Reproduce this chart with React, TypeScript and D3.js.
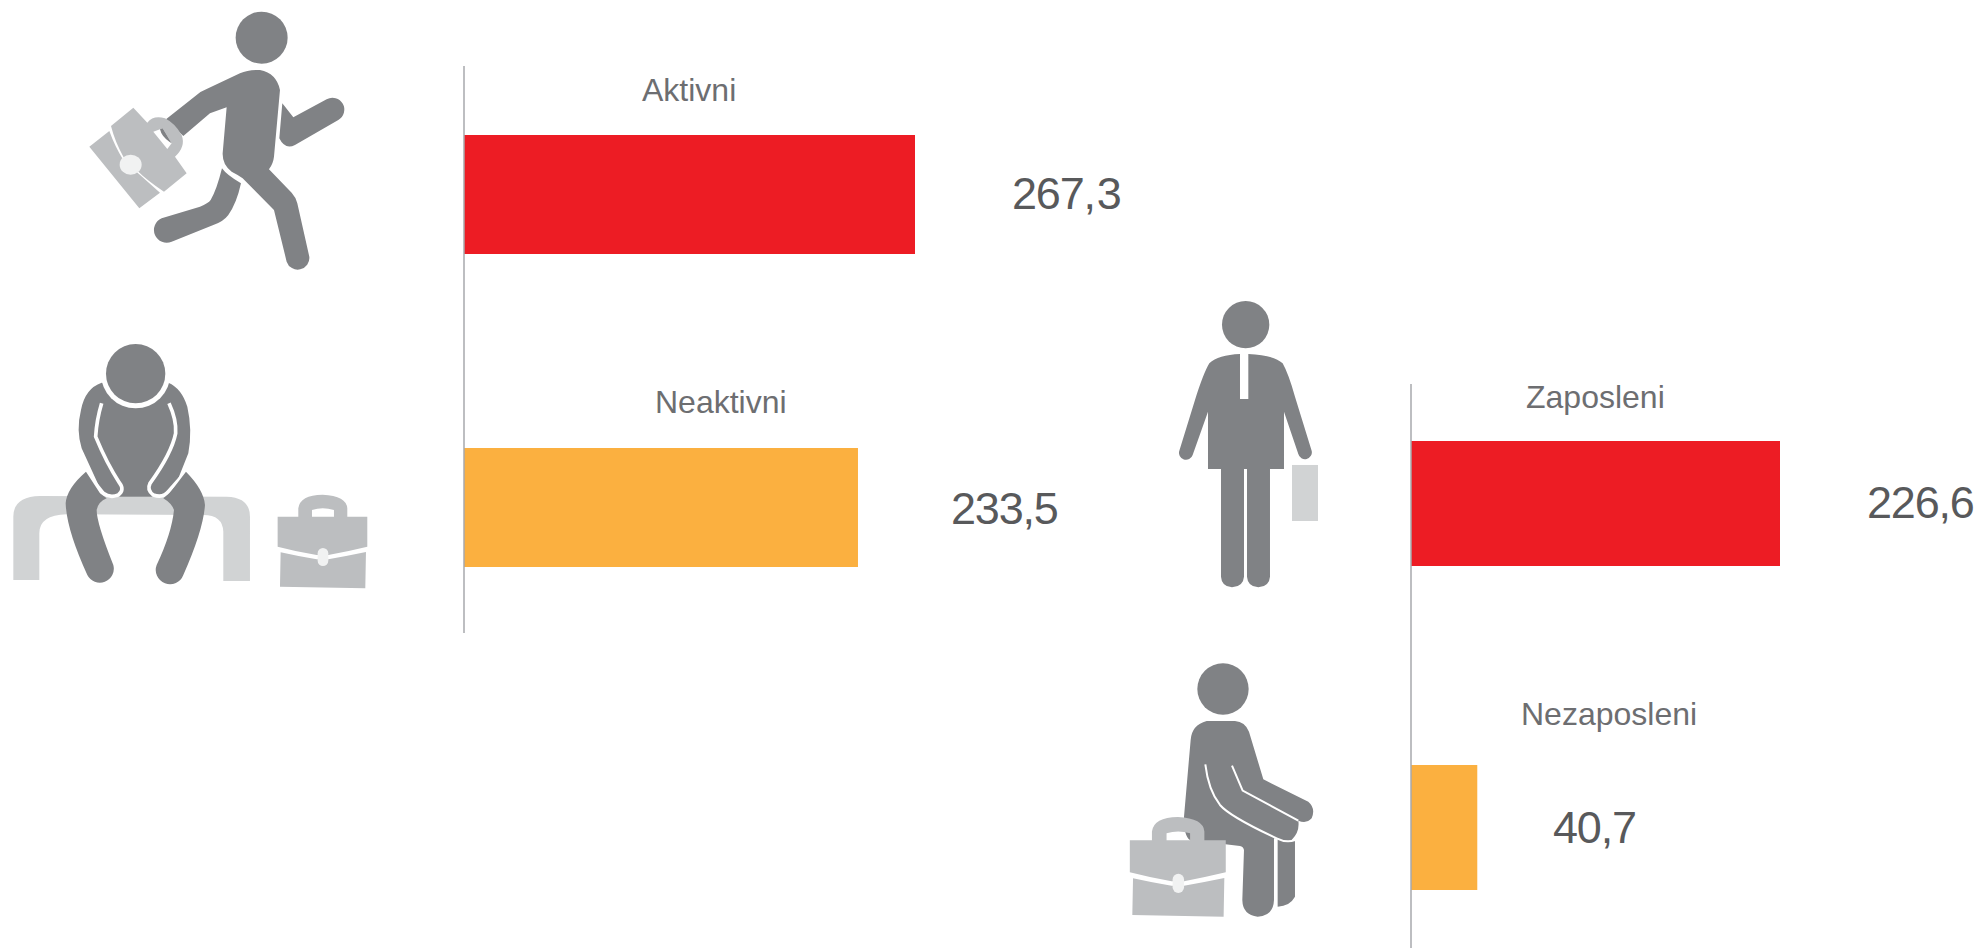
import React from "react";
import * as d3 from "d3";

const W = 1982;
const H = 948;

// Data
const leftCategories = ["Aktivni", "Neaktivni"];
const leftValues = [267.3, 233.5];
const rightCategories = ["Zaposleni", "Nezaposleni"];
const rightValues = [226.6, 40.7];
const barColors = ["#ed1c24", "#fbb040"];

const DARK = "#808285";
const CASE = "#bcbec0";
const LIGHT = "#d1d3d4";
const CLASP = "#f1f2f2";
const LABEL = "#6d6e71";
const VALUE = "#58595b";
const AXIS = "#a7a9ac";
const FONT = "'Liberation Sans', Arial, Helvetica, sans-serif";

const fmt = (v: number) => d3.format(".1f")(v).replace(".", ",");

const panels = [
  {
    categories: leftCategories,
    values: leftValues,
    x0: 464,
    x1: 915,
    yRange: [135, 567],
    axis: [66, 633],
    labelX: [642, 655],
    labelY: [101, 413],
    valueX: [1012, 951],
    valueY: [209, 524],
    lastDigitGap: [2, 0],
  },
  {
    categories: rightCategories,
    values: rightValues,
    x0: 1411,
    x1: 1780,
    yRange: [441, 890],
    axis: [384, 948],
    labelX: [1526, 1521],
    labelY: [408, 725],
    valueX: [1867, 1553],
    valueY: [518, 843],
    lastDigitGap: [0, 0],
  },
];

function Panel({ p }: { p: (typeof panels)[number] }) {
  const x = d3.scaleLinear().domain([0, d3.max(p.values) as number]).range([p.x0, p.x1]);
  const inner = p.categories[0] === "Aktivni" ? 1 - 119 / 313 : 1 - 125 / 324;
  const y = d3.scaleBand<string>().domain(p.categories).range(p.yRange as [number, number]).paddingInner(inner).paddingOuter(0);
  return (
    <g>
      {p.categories.map((c, i) => {
        const s = fmt(p.values[i]);
        return (
          <g key={c}>
            <rect x={x(0)} y={y(c)} width={x(p.values[i]) - x(0)} height={y.bandwidth()} fill={barColors[i]} />
            <text x={p.labelX[i]} y={p.labelY[i]} fontSize={32} fill={LABEL} fontFamily={FONT}>{c}</text>
            <text x={p.valueX[i]} y={p.valueY[i]} fontSize={45} letterSpacing={-1.2} fill={VALUE} fontFamily={FONT}>
              {s.slice(0, -1)}
              <tspan dx={p.lastDigitGap[i]}>{s.slice(-1)}</tspan>
            </text>
          </g>
        );
      })}
      <line x1={x(0)} x2={x(0)} y1={p.axis[0]} y2={p.axis[1]} stroke={AXIS} strokeWidth={1.5} />
    </g>
  );
}

function Briefcase({ transform }: { transform: string }) {
  return (
    <g transform={transform}>
      <path
        fillRule="evenodd"
        fill={CASE}
        d="M833,590 L895,590 L895,565 Q900,525 968,524 Q1040,528 1042,565 L1042,590 L1102,590 L1102,680 Q1040,695 985,705 L950,705 Q890,695 833,680 Z M936,590 L936,570 Q968,560 1002,570 L1002,590 Z"
      />
      <path fill={CASE} d="M842,697 Q900,710 950,718 L985,718 Q1040,708 1098,696 L1096,805 L840,800 Z" />
      <rect x={953} y={684} width={32} height={54} rx={16} fill={CLASP} />
    </g>
  );
}

function Runner() {
  return (
    <g transform="translate(60,0) scale(0.3333)">
      <circle cx={605} cy={113} r={78} fill={DARK} />
      <path fill={DARK} d="M318,358 L410,285 Q420,275 440,267 L540,220 Q565,208 600,210 Q650,220 660,270 L642,470 Q640,490 627,508 L695,578 Q708,592 712,610 L748,770 A35,35 0 0 1 680,785 L642,630 L548,535 Q535,525 515,515 Q487,495 488,460 L500,322 L450,340 L370,408 Z" />
      <path fill={DARK} d="M486,505 Q500,525 543,550 Q530,610 505,645 Q490,665 460,675 L335,725 A35,35 0 1 1 305,655 L420,620 Q445,610 452,600 Q470,570 486,505 Z" />
      <path fill={DARK} d="M667,310 L700,352 L800,298 A35,35 0 1 1 835,360 L705,435 Q675,450 658,415 Z" />
      <path fill={CASE} d="M153,378 L220,323 L262,368 Q280,345 315,355 Q345,370 365,405 Q378,440 345,470 L380,520 L312,575 Q260,540 232,512 L190,470 Q165,425 153,378 Z" />
      <path fill={CASE} d="M88,440 L148,393 Q165,440 190,480 L300,578 L238,625 Z" />
      <path fill="#fff" d="M280,395 L308,385 L335,430 L322,447 Z" />
      <path fill={DARK} d="M300,388 L308,385 L335,430 L328,425 Q305,410 300,388 Z" />
      <ellipse cx={212} cy={494} rx={33} ry={30} fill={CLASP} />
    </g>
  );
}

function Sitter() {
  return (
    <g transform="translate(0,320) scale(0.3333)">
      <path fill={LIGHT} d="M40,780 L40,590 Q40,530 120,528 L680,530 Q750,532 750,590 L750,783 L670,783 L670,635 Q668,585 610,585 L200,583 Q118,585 118,640 L118,780 Z" />
      <path fill={DARK} d="M305,188 Q255,205 243,270 Q228,330 245,385 L300,505 Q320,540 355,530 L480,530 Q515,535 525,500 L565,400 Q578,330 562,260 Q545,205 505,188 Z" />
      <path fill="none" stroke="#fff" strokeWidth={11} d="M305,250 Q290,300 287,350 Q320,430 358,488 Q375,510 355,525 Q330,535 310,520 L258,455" />
      <path fill="none" stroke="#fff" strokeWidth={11} d="M507,250 Q530,300 527,340 Q515,400 450,490 Q440,510 460,525 Q490,535 505,515 L558,455" />
      <path fill={DARK} d="M258,455 Q200,505 197,550 Q200,630 262,765 A42,42 0 0 0 340,735 Q290,610 290,570 Q295,545 320,535 L300,520 Z" />
      <path fill={DARK} d="M558,455 Q612,510 615,555 Q610,630 550,765 A42,42 0 0 1 470,735 Q515,640 522,570 Q515,550 490,535 L510,518 Z" />
      <circle cx={407} cy={161} r={104} fill="#fff" />
      <rect x={290} y={50} width={235} height={135} fill="#fff" />
      <circle cx={407} cy={161} r={89} fill={DARK} />
      <Briefcase transform="translate(0,0)" />
    </g>
  );
}

function Standing() {
  return (
    <g transform="translate(1150,280) scale(0.3333)">
      <circle cx={287} cy={134} r={71} fill={DARK} />
      <path fill={DARK} d="M270,222 Q205,225 178,250 Q160,280 135,360 L88,512 A20,20 0 0 0 128,525 L174,395 L174,567 L213,567 L213,890 Q215,920 246,922 Q280,920 282,890 L282,567 L291,567 L291,890 Q293,920 325,922 Q358,920 360,890 L360,567 L402,567 L402,395 L445,522 A20,20 0 0 0 485,512 L435,350 Q415,280 398,250 Q370,225 295,222 L295,357 L270,357 Z" />
      <rect x={426} y={555} width={78} height={168} fill={LIGHT} />
    </g>
  );
}

function Seated() {
  return (
    <g transform="translate(1110,650) scale(0.3333)">
      <circle cx={339} cy={117} r={77} fill={DARK} />
      <path fill={DARK} d="M290,213 L375,213 Q405,215 417,245 L460,388 L595,455 Q618,475 605,505 Q590,522 565,512 Q570,545 545,570 L555,570 L555,740 Q540,768 503,770 L503,565 L492,565 L492,750 Q490,798 443,800 Q398,795 397,750 L402,600 Q400,590 390,588 L240,570 Q222,560 222,500 L242,270 Q245,225 290,213 Z" />
      <path fill="none" stroke="#fff" strokeWidth={6} d="M286,343 Q295,420 330,465 Q360,500 500,565 Q530,580 555,570" />
      <path fill="none" stroke="#fff" strokeWidth={6} d="M366,347 L398,422 L565,512" />
      <Briefcase transform="translate(205,700) scale(1.07,1.065) translate(-969,-711)" />
    </g>
  );
}

export default function App() {
  return (
    <svg
      width={W}
      height={H}
      viewBox={`0 0 ${W} ${H}`}
      style={{ position: "absolute", left: 0, top: 0, display: "block", background: "#fff" }}
    >
      <Runner />
      <Sitter />
      <Standing />
      <Seated />
      {panels.map((p) => (
        <Panel key={p.categories[0]} p={p} />
      ))}
    </svg>
  );
}
